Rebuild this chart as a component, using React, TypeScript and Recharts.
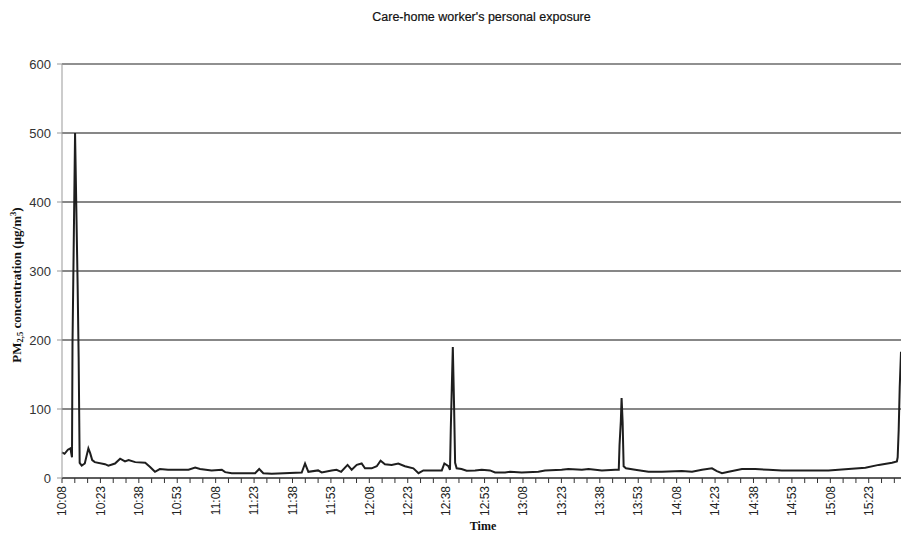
import React from "react";
import { LineChart, Line, XAxis, YAxis, CartesianGrid, ReferenceLine } from "recharts";

// minutes after 10:08
const minutes: number[] = [
  0, 1, 2.3, 3.3, 3.6, 3.9, 4.1, 4.6, 5.1, 5.6, 6.1, 6.5, 6.9, 7.7, 8.9, 10.3, 11, 11.8, 12.8, 16.8,
  18.1, 20.7, 22.7, 24.6, 26, 28.6, 32.5, 34.4, 36.3, 38.2, 41.4, 49.4, 52, 53.9, 58.4, 62.4, 63.7, 66.3, 75.4, 77,
  78.6, 81.9, 93.6, 94.9, 96.2, 100, 101.4, 105.3, 107.2, 109, 111.5, 113.1, 115.1, 117, 118.3, 120.9, 122.9, 124.4, 126.1, 128.7,
  131.3, 133.9, 137.2, 139.2, 141.1, 148.3, 149.3, 150.9, 151.5, 151.8, 152.2, 152.6, 153.1, 153.5, 154.1, 156, 158, 161.3, 163.9, 167.1,
  169.1, 173, 175, 179.5, 186, 188.6, 195.1, 197.7, 203, 205.6, 210.8, 216, 217.4, 217.7, 218.2, 218.5, 218.9, 219.3, 220.2, 223.8,
  229, 234.2, 242, 246, 249.9, 253.8, 255.7, 257.7, 260.3, 265.5, 270.7, 275.9, 281.1, 288.9, 299.3, 307.1, 313.7, 318.9, 324.1, 326,
  326.3, 326.7, 327.1, 327.6,
];

const pm25: number[] = [
  37, 35, 41, 43, 36, 30, 195, 345, 500, 390, 280, 175, 22, 18, 21, 43, 36, 26, 23, 20,
  18, 21, 28, 24, 26, 23, 22, 16, 9, 13, 12, 12, 15, 13, 11, 12, 8.5, 7, 7, 13,
  7, 6, 8, 21, 9, 11, 8, 11, 12, 9, 19, 12, 19, 21, 14, 14, 17, 25, 20, 19,
  21, 17, 14, 7, 11, 11, 21, 17, 12, 70, 130, 190, 103, 22, 14, 13, 10.5, 11, 12, 11,
  8, 8, 9, 8, 9, 11, 12, 13, 12, 13, 11, 12, 12, 48, 82, 116, 82, 17, 14, 12,
  9, 9, 10, 9, 12, 14, 10, 7, 9, 13, 13, 12, 11, 11, 11, 13, 15, 19, 22, 24,
  30, 70, 132, 183,
];

const tickLabels: string[] = [
  "10:08", "10:23", "10:38", "10:53", "11:08", "11:23", "11:38", "11:53", "12:08", "12:23", "12:38",
  "12:53", "13:08", "13:23", "13:38", "13:53", "14:08", "14:23", "14:38", "14:53", "15:08", "15:23",
];

const yTicks: number[] = [0, 100, 200, 300, 400, 500, 600];
const xTicks: number[] = Array.from({ length: 66 }, (_, i) => i * 5);

const data = minutes.map((m, i) => ({ m, v: pm25[i] }));

const XTick = (props: any) => {
  const { x, y, payload } = props;
  const val = payload.value as number;
  if (val % 15 !== 0) return null;
  const label = tickLabels[val / 15];
  if (!label) return null;
  return (
    <g transform={`translate(${x},${y})`}>
      <text
        x={-1}
        y={0}
        dy="0.35em"
        transform="rotate(-90)"
        textAnchor="end"
        fontFamily="'Liberation Sans', Arial, sans-serif"
        fontSize={12}
        fill="#222"
      >
        {label}
      </text>
    </g>
  );
};

export default function App() {
  return (
    <div style={{ position: "absolute", left: 0, top: 0, width: 901, height: 534, background: "#fff" }}>
      <div
        style={{
          position: "absolute",
          left: 62,
          top: 10,
          width: 839,
          textAlign: "center",
          fontFamily: "'Liberation Sans', Arial, sans-serif",
          fontSize: 12.5,
          color: "#111",
          WebkitTextStroke: "0.2px #111",
        }}
      >
        Care-home worker's personal exposure
      </div>
      <LineChart width={901} height={534} data={data} margin={{ top: 64, right: 0, bottom: 0, left: 0 }}>
        <CartesianGrid vertical={false} stroke="#111" strokeWidth={1.1} />
        <ReferenceLine y={600} stroke="#999" strokeWidth={1} />
        <XAxis
          dataKey="m"
          type="number"
          domain={[0, 327.6]}
          ticks={xTicks}
          interval={0}
          height={56}
          tickSize={5}
          stroke="#333"
          tick={<XTick />}
          label={{
            content: () => (
              <text
                x={483}
                y={530}
                textAnchor="middle"
                fontFamily="'Liberation Serif', 'Times New Roman', serif"
                fontWeight="bold"
                fontSize={12}
                fill="#111"
              >
                Time
              </text>
            ),
          }}
        />
        <YAxis
          type="number"
          domain={[0, 600]}
          ticks={yTicks}
          interval={0}
          width={62}
          tickSize={5}
          tickMargin={6}
          stroke="#999"
          tick={{ fill: "#333", fontSize: 13, fontFamily: "'Liberation Sans', Arial, sans-serif" }}
          label={{
            content: () => (
              <text
                x={18}
                y={285}
                transform="rotate(-90, 18, 285)"
                textAnchor="middle"
                dominantBaseline="middle"
                fontFamily="'Liberation Serif', 'Times New Roman', serif"
                fontWeight="bold"
                fontSize={13}
                fill="#111"
              >
                PM
                <tspan dy={3} fontSize={8.5}>2,5</tspan>
                <tspan dy={-3}> concentration (µg/m</tspan>
                <tspan dy={-4} fontSize={8.5}>3</tspan>
                <tspan dy={4}>)</tspan>
              </text>
            ),
          }}
        />
        <Line
          type="linear"
          dataKey="v"
          stroke="#1e1e1e"
          strokeWidth={2}
          dot={false}
          isAnimationActive={false}
        />
      </LineChart>
    </div>
  );
}
